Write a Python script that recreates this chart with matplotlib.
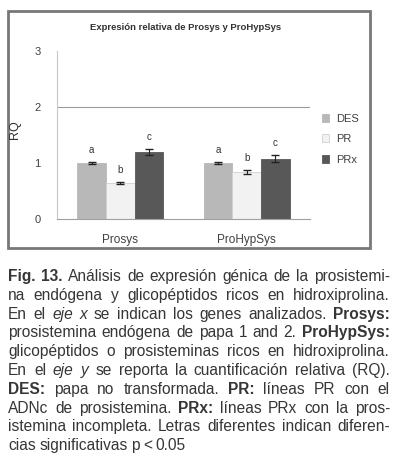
import matplotlib.pyplot as plt
from matplotlib.patches import Rectangle
import numpy as np

# genes analysed and plant lines
genes = ['Prosys', 'ProHypSys']
plant_lines = ['DES', 'PR', 'PRx']

# relative quantification (RQ)
rq_des = [1.0, 1.0]
rq_pr = [0.64, 0.84]
rq_prx = [1.2, 1.08]
err_des = [0.02, 0.02]
err_pr = [0.02, 0.04]
err_prx = [0.05, 0.07]

# significance letters
letters_des = ['a', 'a']
letters_pr = ['b', 'b']
letters_prx = ['c', 'c']

yticks = [0, 1, 2, 3]
title = 'Expresión relativa de Prosys y ProHypSys'

W, H = 397, 465
fig = plt.figure(figsize=(W / 100, H / 100), dpi=100)
plt.rcParams['font.family'] = ['Liberation Sans', 'DejaVu Sans']

# grey frame around the chart
fig.add_artist(Rectangle((8 / W, 1 - 248 / H), 362 / W, 237 / H,
                         transform=fig.transFigure, fill=False,
                         ec='#787878', lw=2))

ax = fig.add_axes([57 / W, 1 - 219 / H, 253 / W, 168 / H])
x = np.arange(len(genes))
bw = 0.226
colors = ['#b8b8b8', '#f2f2f2', '#585858']
edges = ['#b8b8b8', '#d0d0d0', '#585858']
series = [rq_des, rq_pr, rq_prx]
errs = [err_des, err_pr, err_prx]
letters = [letters_des, letters_pr, letters_prx]

ax.axhline(2, color='#9a9a9a', lw=0.8, zorder=0)
for i, (vals, e, lab) in enumerate(zip(series, errs, letters)):
    xs = x + (i - 1) * bw
    ax.bar(xs, vals, bw, color=colors[i], edgecolor=edges[i], lw=0.6,
           label=plant_lines[i], zorder=2)
    ax.errorbar(xs, vals, yerr=e, fmt='none', ecolor='#222222', lw=0.8,
                capsize=3, zorder=3)
    for xi, v, ei, l in zip(xs, vals, e, lab):
        ax.text(xi, v + ei + 0.12, l, ha='center', va='bottom',
                fontsize=7, color='#333333')

ax.set_xlim(-0.5, 1.5)
ax.set_ylim(0, 3)
ax.set_yticks(yticks)
ax.set_yticklabels([str(t) for t in yticks], fontsize=8, color='#404040')
ax.set_xticks(x)
ax.set_xticklabels(genes, fontsize=8.5, color='#404040')
ax.tick_params(length=0, axis='y', pad=12)
ax.tick_params(length=0, axis='x', pad=11)
for s in ['top', 'right']:
    ax.spines[s].set_visible(False)
ax.spines['left'].set_color('#c8c8c8')
ax.spines['bottom'].set_color('#a0a0a0')
ax.spines['left'].set_linewidth(0.8)
ax.spines['bottom'].set_linewidth(0.8)

fig.text(15 / W, 1 - 130 / H, 'RQ', rotation=90, ha='center', va='center',
         fontsize=9, color='#333333')
fig.text(186 / W, 1 - 27 / H, title, ha='center', va='center',
         fontsize=6.8, fontweight='bold', color='#333333')

handles, labels_ = ax.get_legend_handles_labels()
fig.legend(handles, labels_, loc='upper left',
           bbox_to_anchor=(316 / W, 1 - 108 / H), frameon=False,
           fontsize=8, handlelength=0.7, handleheight=0.7,
           handletextpad=0.6, labelspacing=0.95, borderpad=0,
           labelcolor='#404040')

# caption, justified by hand
caption = [
    [('Fig. 13.', 'b'), ('Análisis de expresión génica de la prosistemi-', 'n')],
    [('na endógena y glicopéptidos ricos en hidroxiprolina.', 'n')],
    [('En el', 'n'), ('eje x', 'i'), ('se indican los genes analizados.', 'n'), ('Prosys:', 'b')],
    [('prosistemina endógena de papa 1 and 2.', 'n'), ('ProHypSys:', 'b')],
    [('glicopéptidos o prosisteminas ricos en hidroxiprolina.', 'n')],
    [('En el', 'n'), ('eje y', 'i'), ('se reporta la cuantificación relativa (RQ).', 'n')],
    [('DES:', 'b'), ('papa no transformada.', 'n'), ('PR:', 'b'), ('líneas PR con el', 'n')],
    [('ADNc de prosistemina.', 'n'), ('PRx:', 'b'), ('líneas PRx con la pros-', 'n')],
    [('istemina incompleta. Letras diferentes indican diferen-', 'n')],
    [('cias significativas p < 0.05', 'n')],
]
x0, x1 = 8, 390
y_first = 281
pitch = 18.8
fig.canvas.draw()
renderer = fig.canvas.get_renderer()
for k, line in enumerate(caption):
    words = []
    for seg, st in line:
        for w in seg.split(' '):
            words.append((w, st))
    texts = []
    for w, st in words:
        t = fig.text(0, 1 - (y_first + k * pitch) / H, w, fontsize=11.2,
                     color='#363636', va='baseline',
                     fontweight='bold' if st == 'b' else 'normal',
                     fontstyle='italic' if st == 'i' else 'normal')
        texts.append(t)
    widths = [t.get_window_extent(renderer).width for t in texts]
    if k < len(caption) - 1:
        gap = (x1 - x0 - sum(widths)) / (len(words) - 1)
    else:
        gap = 3.5
    pos = x0
    for t, wd in zip(texts, widths):
        t.set_x(pos / W)
        pos += wd + gap

fig.savefig('out.png', dpi=100)
